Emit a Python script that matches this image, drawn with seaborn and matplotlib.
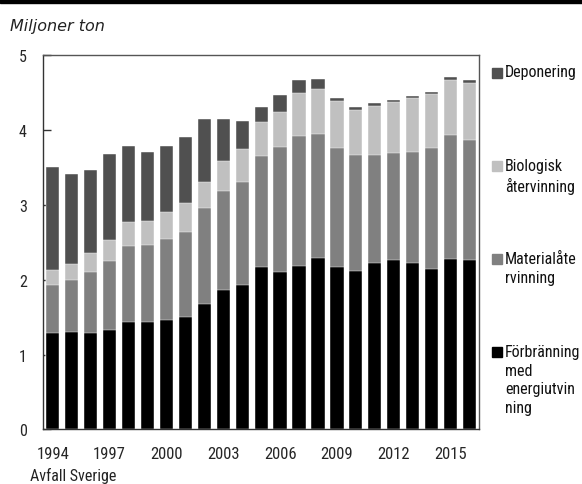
import numpy as np
import pandas as pd
import seaborn as sns
import matplotlib.pyplot as plt
from matplotlib.patches import Rectangle
from matplotlib import font_manager

years = list(range(1994, 2017))
forbranning = [1.29, 1.30, 1.29, 1.33, 1.44, 1.44, 1.46, 1.50, 1.67, 1.86, 1.93, 2.17,
               2.10, 2.18, 2.29, 2.17, 2.11, 2.22, 2.26, 2.22, 2.14, 2.28, 2.26]
material = [0.64, 0.69, 0.81, 0.92, 1.01, 1.02, 1.08, 1.14, 1.29, 1.32, 1.38, 1.48,
            1.67, 1.74, 1.65, 1.59, 1.56, 1.44, 1.43, 1.48, 1.62, 1.65, 1.61]
biologisk = [0.20, 0.22, 0.25, 0.28, 0.32, 0.32, 0.36, 0.39, 0.35, 0.40, 0.44, 0.45,
             0.47, 0.57, 0.61, 0.62, 0.60, 0.66, 0.68, 0.72, 0.72, 0.73, 0.76]
deponering = [1.37, 1.20, 1.11, 1.15, 1.02, 0.93, 0.88, 0.88, 0.83, 0.57, 0.37, 0.20,
              0.23, 0.18, 0.13, 0.05, 0.04, 0.04, 0.03, 0.03, 0.03, 0.04, 0.03]

labels = ["Deponering", "Biologisk\nåtervinning", "Materialåte\nrvinning",
          "Förbränning\nmed\nenergiutvin\nning"]
colors = ["#505050", "#c0c0c0", "#808080", "#000000"]


def pick_font(cands):
    names = {f.name for f in font_manager.fontManager.ttflist}
    for c in cands:
        if c in names:
            return c
    return "DejaVu Sans"


def main():
    narrow = pick_font(["Liberation Sans Narrow", "Roboto Condensed", "DejaVu Sans"])

    df = pd.DataFrame({
        "year": [str(y) for y in years],
        "forbranning": forbranning,
        "material": material,
        "biologisk": biologisk,
        "deponering": deponering,
    })
    # cumulative heights, drawn from the top layer down
    df["c4"] = df["forbranning"] + df["material"] + df["biologisk"] + df["deponering"]
    df["c3"] = df["forbranning"] + df["material"] + df["biologisk"]
    df["c2"] = df["forbranning"] + df["material"]
    df["c1"] = df["forbranning"]

    sns.set_style("white")
    plt.rcParams["font.family"] = [narrow, "DejaVu Sans"]

    fig = plt.figure(figsize=(5.82, 4.85), dpi=100)
    ax = fig.add_axes([0.0744, 0.1124, 0.7486, 0.7722])

    for col, c in zip(["c4", "c3", "c2", "c1"], colors):
        sns.barplot(df, x="year", y=col, color=c, saturation=1, width=0.7,
                    errorbar=None, edgecolor="white", linewidth=0.3, ax=ax)

    ax.set_xlim(-0.5, len(years) - 0.5)
    ax.set_ylim(0, 5)
    ax.set_yticks(range(6))
    ax.set_yticklabels([str(i) for i in range(6)], fontsize=11.5)
    major = list(range(0, len(years), 3))
    ax.set_xticks(major)
    ax.set_xticklabels([str(years[i]) for i in major], fontsize=12)
    ax.set_xticks(np.arange(-0.5, len(years), 1.0), minor=True)
    ax.tick_params(axis="x", which="major", length=0, pad=12)
    ax.tick_params(axis="x", which="minor", direction="out", length=4, width=1,
                   color="#333333")
    ax.tick_params(axis="y", direction="in", length=6, width=1, color="#333333",
                   pad=12, left=True)
    ax.set_xlabel("")
    ax.set_ylabel("")
    for s in ax.spines.values():
        s.set_visible(True)
        s.set_color("#555555")
        s.set_linewidth(1)
    ax.spines["left"].set_color("#333333")
    ax.spines["bottom"].set_color("#333333")

    # black header strip at the very top
    fig.patches.append(Rectangle((0, 1 - 4 / 485), 1, 4 / 485, transform=fig.transFigure,
                                 color="black", zorder=5))

    fig.text(10 / 582, 1 - 26 / 485, "Miljoner ton", fontsize=11.5, style="italic",
             family="DejaVu Sans", va="center", ha="left", color="#222222")
    fig.text(30 / 582, 1 - 476 / 485, "Avfall Sverige", fontsize=11.5, va="center",
             ha="left", color="#222222")

    # legend drawn by hand: square next to the first line of each label
    centers = [73.5, 167, 260, 353]
    for lab, c, yc in zip(labels, colors, centers):
        fig.patches.append(Rectangle((492 / 582, 1 - (yc + 5) / 485), 10 / 582, 10 / 485,
                                     transform=fig.transFigure, color=c))
        fig.text(505 / 582, 1 - (yc - 8) / 485, lab, fontsize=11.5, va="top",
                 ha="left", linespacing=1.3, color="#111111")

    fig.savefig("out.png", dpi=100)


if __name__ == "__main__":
    main()
